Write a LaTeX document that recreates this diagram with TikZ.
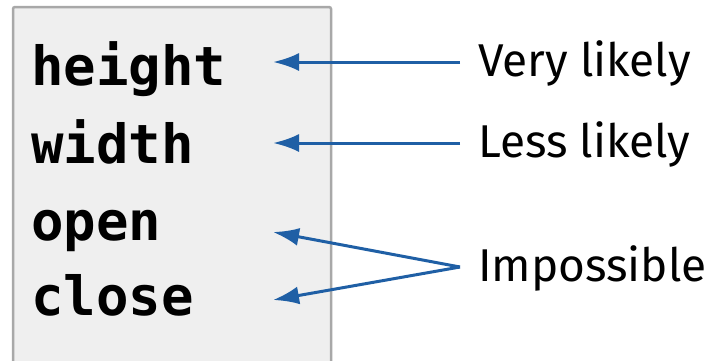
\documentclass[tikz,border=0pt]{standalone}
\usepackage{fontspec}
\setmainfont{Fira Sans}
\setmonofont{DejaVu Sans Mono}
\usepackage{xcolor}
\usetikzlibrary{arrows.meta,positioning}

\definecolor{boxfill}{HTML}{EFEFEF}
\definecolor{boxline}{HTML}{A8A8A8}
\definecolor{pointblue}{HTML}{1F5FA5}

\begin{document}
\begin{tikzpicture}[x=1pt, y=-1pt,
        word/.style={anchor=base west, inner sep=0pt, font=\fontsize{54}{54}\selectfont\ttfamily\bfseries},
        hint/.style={anchor=west, inner xsep=18pt, inner ysep=0pt, text height=28pt, text depth=0pt,
                     font=\fontsize{46}{46}\selectfont},
        pointer/.style={-{Latex[length=26pt,width=18pt]}, line width=3pt, draw=pointblue}
    ]
        \useasboundingbox (0,0) rectangle (717,360);
        \clip (0,0) rectangle (717,360);

        % Attribute box
        \draw[fill=boxfill, draw=boxline, line width=2.5pt, rounded corners=2pt]
            (13,7) rectangle (331,390);

        % Words
        \node[word] (height) at (31,85) {height};
        \node[word] (width) at (31,163) {width};
        \node[word] (open) at (31,240) {open};
        \node[word] (close) at (31,315) {close};

        % Labels
        \node[hint] (likely) at (460,62) {Very likely};
        \node[hint] (less) at (460,143) {Less likely};
        \node[hint] (impossible) at (460,267) {Impossible};

        % Arrow tips
        \coordinate (heightTip) at (273,62);
        \coordinate (widthTip) at (273,143);
        \coordinate (openTip) at (273,232);
        \coordinate (closeTip) at (273,300);

        % Arrows
        \draw[pointer] (likely.west) -- (heightTip);
        \draw[pointer] (less.west) -- (widthTip);
        \draw[pointer] (impossible.west) -- (openTip);
        \draw[pointer] (impossible.west) -- (closeTip);
    \end{tikzpicture}
\end{document}
